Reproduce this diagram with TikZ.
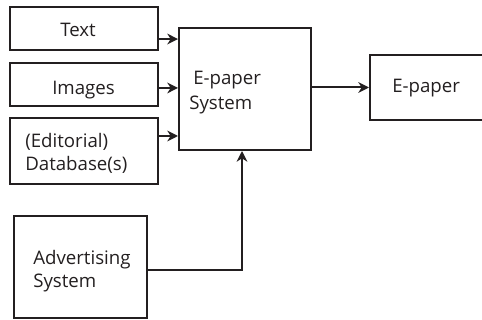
\documentclass[tikz,border=0pt]{standalone}
\usepackage{fontspec}
\setmainfont{Open Sans}
\usetikzlibrary{arrows.meta}
\definecolor{ink}{HTML}{231F20}
\begin{document}
\begin{tikzpicture}[x=0.75pt,y=-0.75pt,
  box/.style={draw=ink,line width=1.5pt,minimum width=#1,inner sep=0pt},
  lbl/.style={anchor=base west,inner sep=0pt,text=ink,font=\fontsize{14}{16}\selectfont},
  arr/.style={draw=ink,line width=1.5pt,-{Stealth[length=8pt,width=8pt,inset=2.5pt]}}]
\useasboundingbox (0,0) rectangle (482,320);
% boxes
\node[box=111pt,minimum height=32.25pt] (tb) at (84,28.5) {};
\node[box=111pt,minimum height=32.25pt] (ib) at (84,84.5) {};
\node[box=111pt,minimum height=49.5pt] (db) at (84,151) {};
\node[box=99pt,minimum height=91.5pt] (sys) at (245,89) {};
\node[box=97.5pt,minimum height=48.75pt] (ep) at (435,87.5) {};
\node[box=99.75pt,minimum height=76.5pt] (adv) at (80.5,267) {};
% labels
\node[lbl] (t1) at (60,37) {Text};
\node[lbl] (t2) at (52,95) {Images};
\node[lbl] (t3) at (25,148) {(Editorial)};
\node[lbl] (t4) at (25,171) {Database(s)};
\node[lbl] (t5) at (193,85) {E-paper};
\node[lbl] (t6) at (189,110) {System};
\node[lbl] (t7) at (392,93) {E-paper};
\node[lbl] (t8) at (33,265) {Advertising};
\node[lbl] (t9) at (33,288) {System};
% connectors
\draw[arr] ([yshift=-7.9pt]tb.east) coordinate (a1) -- (a1 -| sys.west);
\draw[arr] ([yshift=-2.6pt]ib.east) coordinate (a2) -- (a2 -| sys.west);
\draw[arr] ([yshift=11.25pt]db.east) coordinate (a3) -- (a3 -| sys.west);
\draw[arr] (ep.west -| sys.east) -- (ep.west);
\coordinate (sysin) at ([xshift=-2.25pt]sys.south);
\draw[arr] ([yshift=-2.25pt]adv.east) -| (sysin);
\end{tikzpicture}
\end{document}
